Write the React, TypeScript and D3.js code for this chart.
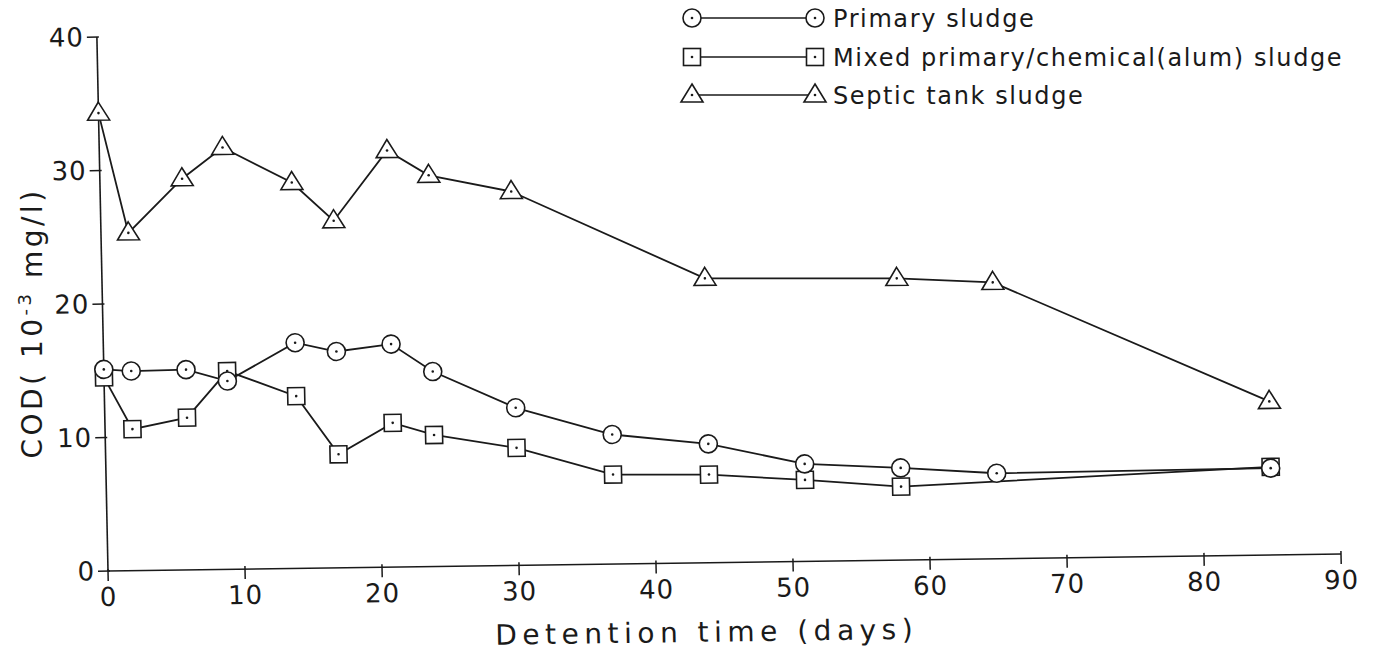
import React from "react";
import * as d3 from "d3";

const primaryDays = [0, 2, 6, 9, 14, 17, 21, 24, 30, 37, 44, 51, 58, 65, 85];
const primaryCOD = [15.1, 14.95, 15.0, 14.1, 16.9, 16.2, 16.7, 14.6, 11.8, 9.7, 8.9, 7.3, 6.9, 6.4, 6.5];

const mixedDays = [0, 2, 6, 9, 14, 17, 21, 24, 30, 37, 44, 51, 58, 85];
const mixedCOD = [14.5, 10.6, 11.4, 14.85, 12.9, 8.5, 10.8, 9.85, 8.8, 6.7, 6.6, 6.1, 5.5, 6.6];

const septicDays = [0, 2, 6, 9, 14, 17, 21, 24, 30, 44, 58, 65, 85];
const septicCOD = [34.3, 25.3, 29.3, 31.6, 28.9, 26.0, 31.2, 29.3, 28.0, 21.3, 21.1, 20.7, 11.5];

const xTicks = [0, 10, 20, 30, 40, 50, 60, 70, 80, 90];
const yTicks = [0, 10, 20, 30, 40];

const legendLabels = ["Primary sludge", "Mixed primary/chemical(alum) sludge", "Septic tank sludge"];

const FONT = "'DejaVu Sans', 'Liberation Sans', sans-serif";
const INK = "#1a1a1a";

type Shape = "circle" | "square" | "triangle";

function Marker({ shape, x, y }: { shape: Shape; x: number; y: number }) {
  return (
    <g transform={`translate(${x},${y})`}>
      {shape === "circle" && <circle r={9} fill="white" stroke={INK} strokeWidth={1.6} />}
      {shape === "square" && (
        <rect x={-8.5} y={-8.5} width={17} height={17} fill="white" stroke={INK} strokeWidth={1.6} />
      )}
      {shape === "triangle" && (
        <path d="M0,-11 L11,7 L-11,7 Z" fill="white" stroke={INK} strokeWidth={1.6} strokeLinejoin="miter" />
      )}
      <circle r={1.3} fill={INK} />
    </g>
  );
}

export default function App() {
  const x = d3.scaleLinear().domain([0, 90]).range([0, 1233]);
  const y = d3.scaleLinear().domain([0, 40]).range([0, -534]);

  const series: { days: number[]; vals: number[]; shape: Shape }[] = [
    { days: septicDays, vals: septicCOD, shape: "triangle" },
    { days: mixedDays, vals: mixedCOD, shape: "square" },
    { days: primaryDays, vals: primaryCOD, shape: "circle" },
  ];

  const line = d3
    .line<[number, number]>()
    .x((d) => x(d[0]))
    .y((d) => y(d[1]));

  const legendShapes: Shape[] = ["circle", "square", "triangle"];
  const legendY = [18, 57, 95];

  return (
    <svg
      width={1391}
      height={653}
      style={{ position: "absolute", left: 0, top: 0, background: "white" }}
      fontFamily={FONT}
    >
      <rect width={1391} height={653} fill="white" />
      <g transform="matrix(1,-0.0138,0.0208,1,108,571)">
        {/* axes */}
        <line x1={x(0)} x2={x(90)} y1={0} y2={0} stroke={INK} strokeWidth={1.6} />
        <line x1={0} x2={0} y1={y(0)} y2={y(40)} stroke={INK} strokeWidth={1.6} />
        {xTicks.map((t) => (
          <g key={"xt" + t}>
            <line x1={x(t)} x2={x(t)} y1={t === 0 ? -2 : -3} y2={10} stroke={INK} strokeWidth={1.5} />
            <text x={x(t)} y={35} textAnchor="middle" fontSize={26} fill={INK} letterSpacing={1}>
              {t}
            </text>
          </g>
        ))}
        {yTicks.map((t) => (
          <g key={"yt" + t}>
            <line x1={-10} x2={2} y1={y(t)} y2={y(t)} stroke={INK} strokeWidth={1.5} />
            <text x={-13} y={y(t) + 9} textAnchor="end" fontSize={26} fill={INK} letterSpacing={1}>
              {t}
            </text>
          </g>
        ))}
        <text x={x(43.6)} y={79} textAnchor="middle" fontSize={28} fill={INK} letterSpacing={5.5}>
          Detention time (days)
        </text>

        {/* series */}
        {series.map((s, i) => {
          const pts: [number, number][] = s.days.map((d, j) => [d, s.vals[j]]);
          return (
            <g key={"s" + i}>
              <path d={line(pts) || ""} fill="none" stroke={INK} strokeWidth={1.8} />
              {pts.map((p, j) => (
                <Marker key={j} shape={s.shape} x={x(p[0])} y={y(p[1])} />
              ))}
            </g>
          );
        })}
      </g>

      <text
        transform="translate(42,323) rotate(-90)"
        textAnchor="middle"
        fontSize={28}
        fill={INK}
        letterSpacing={3.5}
      >
        COD(  10
        <tspan dy={-11} fontSize={18}>-3</tspan>
        <tspan dy={11}>  mg/l)</tspan>
      </text>

      {/* legend */}
      {legendLabels.map((lab, i) => (
        <g key={"lg" + i}>
          <line x1={692} x2={815} y1={legendY[i]} y2={legendY[i]} stroke={INK} strokeWidth={1.6} />
          <Marker shape={legendShapes[i]} x={692} y={legendY[i]} />
          <Marker shape={legendShapes[i]} x={815} y={legendY[i]} />
          <text x={833} y={legendY[i] + 9} fontSize={24} fill={INK} letterSpacing={1.6}>
            {lab}
          </text>
        </g>
      ))}
    </svg>
  );
}
